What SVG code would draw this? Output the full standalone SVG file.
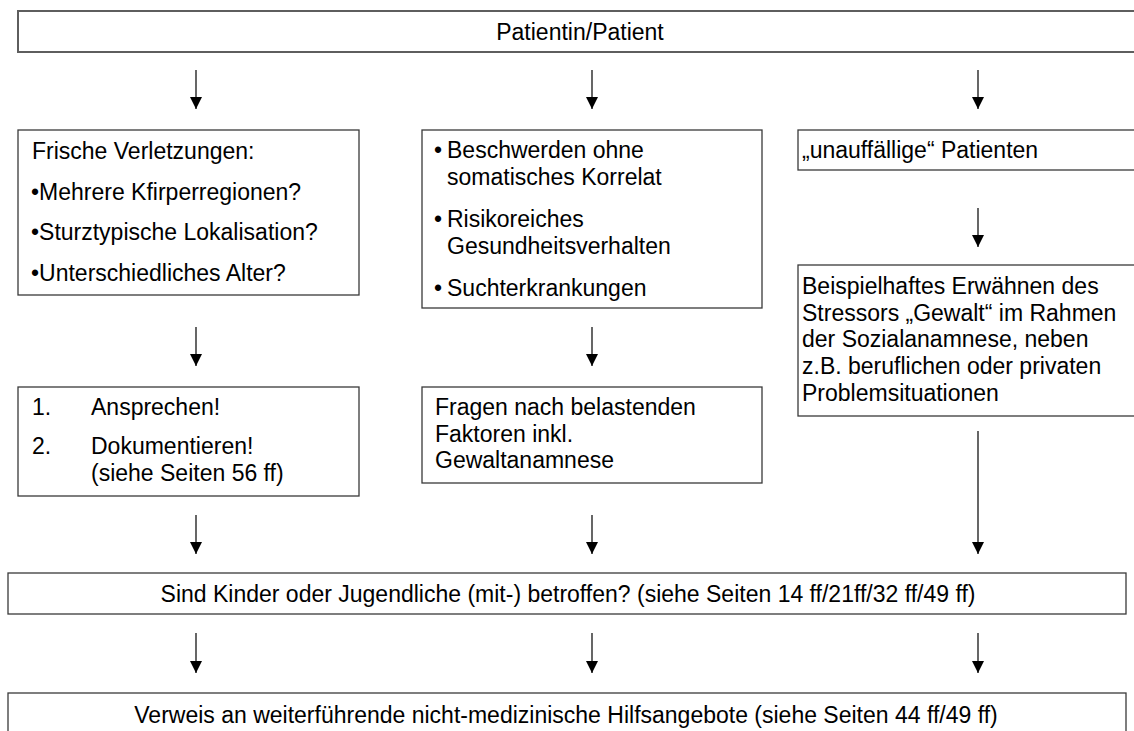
<svg xmlns="http://www.w3.org/2000/svg" width="1134" height="731" viewBox="0 0 1134 731">
<defs>
<marker id="ah" markerUnits="userSpaceOnUse" markerWidth="12" markerHeight="12" viewBox="0 0 12 12" refX="12" refY="6" orient="auto">
<path d="M0,0 L12,6 L0,12 z" fill="#000"/>
</marker>
<style>
text{font-family:"Liberation Sans",Arial,sans-serif;font-size:23px;fill:#000}
.box{fill:#fff;stroke:#3a3a3a;stroke-width:1.3}
.top{fill:#fff;stroke:#5e5e5e;stroke-width:2}
.c{text-anchor:middle}
.arr{stroke:#000;stroke-width:1.2;fill:none;marker-end:url(#ah)}
</style>
</defs>
<rect width="1134" height="731" fill="#fff"/>
<g id="n-patient">
<rect class="top" x="18" y="11" width="1140" height="41"/>
<text class="c" x="580" y="40">Patientin/Patient</text>
</g>
<g id="n-frische">
<rect class="box" x="18" y="130" width="341" height="165"/>
<text x="32" y="159">Frische Verletzungen:</text>
<text x="31" y="200">•Mehrere Kfirperregionen?</text>
<text x="31" y="240">•Sturztypische Lokalisation?</text>
<text x="31" y="281">•Unterschiedliches Alter?</text>
</g>
<g id="n-beschwerden">
<rect class="box" x="422" y="130" width="340" height="178"/>
<text x="434" y="158">•</text><text x="447" y="158">Beschwerden ohne</text>
<text x="447" y="185">somatisches Korrelat</text>
<text x="434" y="227">•</text><text x="447" y="227">Risikoreiches</text>
<text x="447" y="254">Gesundheitsverhalten</text>
<text x="434" y="296">•</text><text x="447" y="296">Suchterkrankungen</text>
</g>
<g id="n-unauffaellig">
<rect class="box" x="798" y="130" width="360" height="40"/>
<text x="802" y="158">„unauffällige“ Patienten</text>
</g>
<g id="n-ansprechen">
<rect class="box" x="18" y="387" width="341" height="109"/>
<text x="32" y="415">1.</text><text x="91" y="415">Ansprechen!</text>
<text x="32" y="454">2.</text><text x="91" y="454">Dokumentieren!</text>
<text x="91" y="481">(siehe Seiten 56 ff)</text>
</g>
<g id="n-fragen">
<rect class="box" x="422" y="387" width="340" height="96"/>
<text x="435" y="415">Fragen nach belastenden</text>
<text x="435" y="442">Faktoren inkl.</text>
<text x="435" y="468">Gewaltanamnese</text>
</g>
<g id="n-beispiel">
<rect class="box" x="798" y="265" width="360" height="151"/>
<text x="802" y="294">Beispielhaftes Erwähnen des</text>
<text x="802" y="321">Stressors „Gewalt“ im Rahmen</text>
<text x="802" y="347">der Sozialanamnese, neben</text>
<text x="802" y="374">z.B. beruflichen oder privaten</text>
<text x="802" y="401">Problemsituationen</text>
</g>
<g id="n-kinder">
<rect class="box" x="8" y="573" width="1118" height="41"/>
<text class="c" x="568" y="602">Sind Kinder oder Jugendliche (mit-) betroffen? (siehe Seiten 14 ff/21ff/32 ff/49 ff)</text>
</g>
<g id="n-verweis">
<rect class="box" x="8" y="693" width="1118" height="60"/>
<text class="c" x="566" y="723">Verweis an weiterführende nicht-medizinische Hilfsangebote (siehe Seiten 44 ff/49 ff)</text>
</g>
<g id="connectors">
<line class="arr" x1="196" y1="70" x2="196" y2="109"/>
<line class="arr" x1="592" y1="70" x2="592" y2="109"/>
<line class="arr" x1="978" y1="70" x2="978" y2="109"/>
<line class="arr" x1="196" y1="327" x2="196" y2="366"/>
<line class="arr" x1="592" y1="327" x2="592" y2="366"/>
<line class="arr" x1="978" y1="208" x2="978" y2="247"/>
<line class="arr" x1="196" y1="515" x2="196" y2="554"/>
<line class="arr" x1="592" y1="515" x2="592" y2="554"/>
<line class="arr" x1="978" y1="431" x2="978" y2="554"/>
<line class="arr" x1="196" y1="633" x2="196" y2="673"/>
<line class="arr" x1="592" y1="633" x2="592" y2="673"/>
<line class="arr" x1="978" y1="633" x2="978" y2="673"/>
</g>
</svg>
